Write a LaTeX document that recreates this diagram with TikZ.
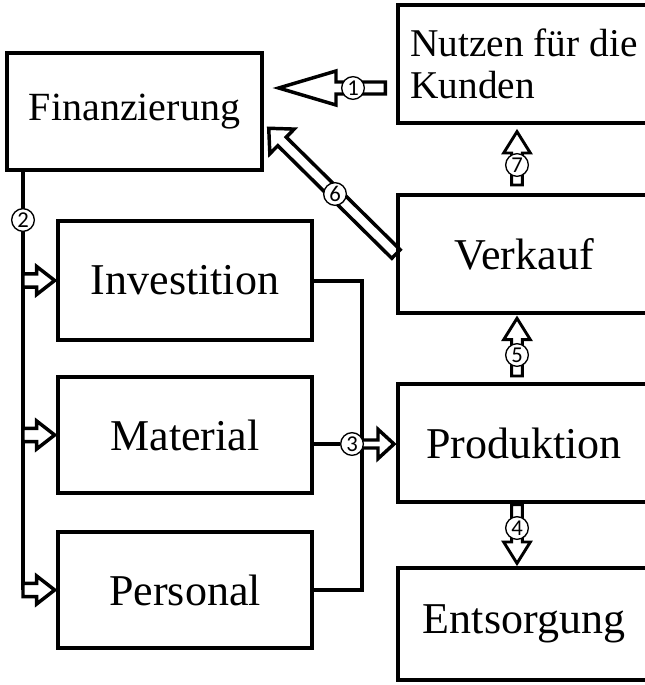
\documentclass[tikz,border=0pt]{standalone}
\usepackage{fontspec}
\setmainfont{Liberation Serif}
\newfontfamily\numfont{Carlito}
\usetikzlibrary{calc,backgrounds}

\begin{document}
\begin{tikzpicture}[x=0.75pt,y=-0.75pt,
  box/.style={draw, line width=3pt, inner sep=0pt, font=\fontsize{33}{36}\selectfont},
  lbox/.style={box, minimum width=190.5pt, minimum height=87pt},
  rbox/.style={box, minimum width=189pt, minimum height=88.5pt},
  num/.style={circle, draw, fill=white, line width=1pt, minimum size=17pt, inner sep=0pt, font=\numfont\fontsize{17}{17}\selectfont},
  bus/.style={line width=3pt},
  arr shaft/.store in=\arrshaft, arr wing/.store in=\arrwing, arr head/.store in=\arrhead,
  arr gap a/.store in=\arrgapa, arr gap b/.store in=\arrgapb,
  arr shaft=4.9pt, arr wing=10.5pt, arr head=13.5pt, arr gap a=0pt, arr gap b=1pt,
  hollow/.style={draw, fill=white, line width=2.6pt, to path={
    let \p1=($(\tikztostart)!\arrgapa!(\tikztotarget)$),
        \p2=($(\tikztotarget)!\arrgapb!(\tikztostart)$),
        \p3=($(\p2)!\arrhead!(\p1)$) in
    ($(\p1)!\arrshaft!90:(\p2)$) -- ($(\p3)!\arrshaft!-90:(\p1)$)
    -- ($(\p3)!\arrwing!-90:(\p1)$) -- (\p2) -- ($(\p3)!\arrwing!90:(\p1)$)
    -- ($(\p3)!\arrshaft!90:(\p1)$) -- ($(\p1)!\arrshaft!-90:(\p2)$) -- cycle}},
  small/.style={hollow, line width=2.2pt, arr shaft=4pt, arr wing=10pt, arr head=16pt}
]
\useasboundingbox (0,0) rectangle (645,685);
\clip (0,0) rectangle (645,685);

% Kaesten
\node[box, minimum width=191.25pt, minimum height=87.75pt, font=\fontsize{30}{33}\selectfont] (finanz) at (134.5,111.5) {Finanzierung};
\node[rbox, align=left, font=\fontsize{29.5}{31}\selectfont] (nutzen) at (524,64) {Nutzen für die\\Kunden};
\node[rbox] (verkauf) at (524,254) {Verkauf};
\node[rbox] (produktion) at (524,443) {Produktion};
\node[rbox, minimum height=84pt] (entsorgung) at (524,624) {Entsorgung};
\node[lbox, minimum height=89.25pt] (investition) at (185,280.5) {Investition};
\node[lbox] (material) at (185,435) {Material};
\node[lbox] (personal) at (185,590) {Personal};

% Nummern
\node[num] (n1) at (353,88) {1};
\node[num] (n2) at (23,220) {2};
\node[num] (n3) at (352,444) {3};
\node[num] (n4) at (517,528) {4};
\node[num] (n5) at (517,355) {5};
\node[num] (n6) at (335,194) {6};
\node[num] (n7) at (517,165) {7};

\begin{scope}[on background layer]
% Leitungen
\draw[bus] (n2 |- finanz.south) -- (n2 |- personal.west);
\draw[bus] (investition.east) -- ++(48,0) |- (personal.east);
\draw[bus] (material.east |- n3) -- (n3);

% Pfeile
\draw[hollow, arr head=43pt, arr wing=12.75pt, arr shaft=4.5pt, arr gap a=8pt, arr gap b=11pt] (nutzen.west |- n1) to (finanz.east |- n1);
\draw[hollow] (n2 |- investition.west) to (investition.west);
\draw[hollow] (n2 |- material.west) to (material.west);
\draw[hollow] (n2 |- personal.west) to (personal.west);
\draw[hollow, arr shaft=3pt, arr wing=11pt, arr head=12pt, arr gap b=1.5pt] (n3) to (produktion.west |- n3);
\draw[small, arr gap a=0.5pt, arr gap b=2pt] (produktion.south -| n4) to (entsorgung.north -| n4);
\draw[small, arr gap a=4.5pt, arr gap b=2.5pt] (produktion.north -| n5) to (verkauf.south -| n5);
\draw[hollow, arr shaft=4.5pt, arr wing=13pt, arr head=14pt, arr gap b=5pt] (verkauf.west) to ($(finanz.north east)!0.6!(finanz.south east)$);
\draw[small, arr gap a=6pt, arr gap b=5pt] (verkauf.north -| n7) to (nutzen.south -| n7);
\end{scope}
\end{tikzpicture}
\end{document}
